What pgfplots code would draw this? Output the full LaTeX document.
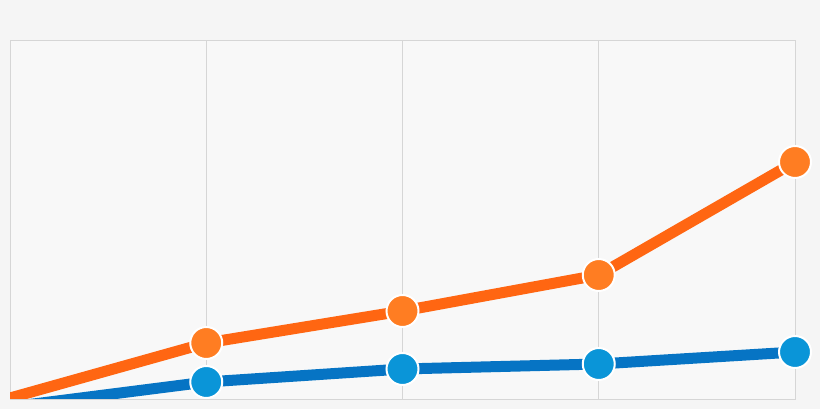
\documentclass[border=0pt]{standalone}
\usepackage{pgfplots}
\pgfplotsset{compat=1.18}
\definecolor{bg}{HTML}{F5F5F5}
\definecolor{gridc}{HTML}{D6D6D6}
\definecolor{orangeL}{HTML}{FF7D22}
\definecolor{orangeD}{HTML}{FF6612}
\definecolor{blueL}{HTML}{0A95D8}
\definecolor{blueD}{HTML}{0674C4}
\begin{document}
\begin{tikzpicture}
\fill[bg] (0,0) rectangle (820bp,409bp);
\begin{axis}[
  at={(10bp,10bp)}, anchor=south west,
  scale only axis, width=785bp, height=359bp,
  xmin=0, xmax=4, ymin=0, ymax=359,
  axis background/.style={fill=white!30!bg},
  axis line style={gridc, line width=0.8pt},
  xtick={0,1,2,3,4}, xticklabels={}, ytick=\empty,
  major tick length=0pt,
  xmajorgrids, grid style={gridc, line width=0.8pt},
  clip=true,
]
\addplot[blueD, line width=11bp, line join=round, no marks]
  coordinates {(0,-8) (1,17) (2,30) (3,35) (4,47)};
\addplot[orangeD, line width=11bp, line join=round, no marks]
  coordinates {(0,1) (1,56) (2,88) (3,124) (4,237)};
\addplot[only marks, mark=*, mark size=16bp,
  mark options={fill=blueL, draw=white, line width=2bp}]
  coordinates {(1,17) (2,30) (3,35) (4,47)};
\addplot[only marks, mark=*, mark size=16bp,
  mark options={fill=orangeL, draw=white, line width=2bp}]
  coordinates {(1,56) (2,88) (3,124) (4,237)};
\end{axis}
\end{tikzpicture}
\end{document}
